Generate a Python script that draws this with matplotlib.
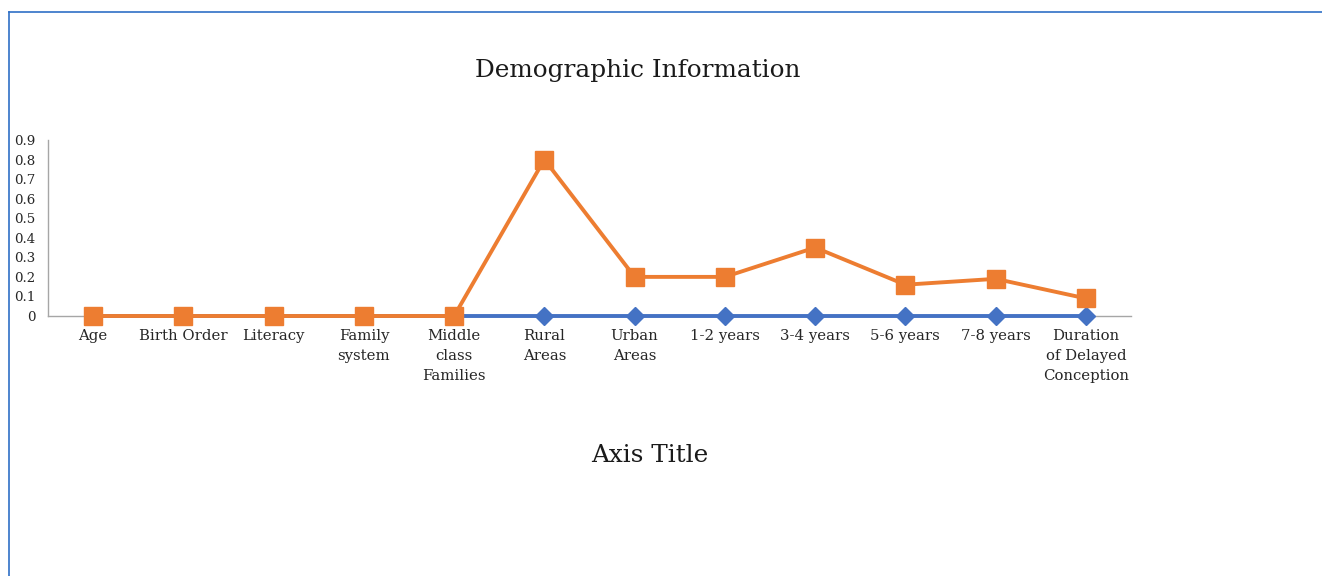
import matplotlib
matplotlib.use("Agg")
import matplotlib.pyplot as plt
from matplotlib.lines import Line2D

categories = ["Age", "Birth Order", "Literacy", "Family\nsystem", "Middle\nclass\nFamilies",
              "Rural\nAreas", "Urban\nAreas", "1-2 years", "3-4 years", "5-6 years",
              "7-8 years", "Duration\nof Delayed\nConception"]
series1 = [0, 0, 0, 0, 0, 0, 0, 0, 0, 0, 0, 0]
series2 = [0, 0, 0, 0, 0, 0.8, 0.2, 0.2, 0.35, 0.16, 0.19, 0.09]
yticks = [0, 0.1, 0.2, 0.3, 0.4, 0.5, 0.6, 0.7, 0.8, 0.9]
ytick_labels = ["0", "0.1", "0.2", "0.3", "0.4", "0.5", "0.6", "0.7", "0.8", "0.9"]

plt.rcParams['font.family'] = ['DejaVu Serif']

W, H = 1322, 576
fig = plt.figure(figsize=(W / 100, H / 100), dpi=100)
fig.patch.set_facecolor('white')

ax = fig.add_axes([48 / W, 1 - 316 / H, (1131 - 48) / W, (316 - 140) / H])
x = list(range(len(categories)))
ax.plot(x, series1, color='#4472C4', lw=2.8, marker='D', markersize=9.5,
        clip_on=False, zorder=3)
ax.plot(x, series2, color='#ED7D31', lw=2.8, marker='s', markersize=13.5,
        clip_on=False, zorder=4)

ax.set_xlim(-0.5, len(categories) - 0.5)
ax.set_ylim(0, 0.9)
ax.set_xticks(x)
ax.set_xticklabels(categories, fontsize=10.7, color='#262626', linespacing=1.55)
ax.set_yticks(yticks)
ax.set_yticklabels(ytick_labels, fontsize=9.6, color='#262626')
ax.tick_params(axis='both', length=0)
ax.tick_params(axis='x', pad=9.5)
ax.tick_params(axis='y', pad=9)
for s in ['top', 'right']:
    ax.spines[s].set_visible(False)
for s in ['left', 'bottom']:
    ax.spines[s].set_color('#A6A6A6')
    ax.spines[s].set_linewidth(1.0)
ax.patch.set_alpha(0)

fig.text(638 / W, 1 - 70 / H, "Demographic Information", ha='center', va='center',
         fontsize=17.8, color='#1a1a1a')
fig.text(650 / W, 1 - 455 / H, "Axis Title", ha='center', va='center',
         fontsize=17.8, color='#1a1a1a')

# outer border (blue, top and left)
fig.add_artist(Line2D([9 / W, 9 / W], [0, 1 - 12 / H], color='#2F6FC6', lw=1.2,
                      transform=fig.transFigure))
fig.add_artist(Line2D([9 / W, 1], [1 - 12 / H, 1 - 12 / H], color='#2F6FC6', lw=1.2,
                      transform=fig.transFigure))

fig.savefig("out.png", dpi=100)
